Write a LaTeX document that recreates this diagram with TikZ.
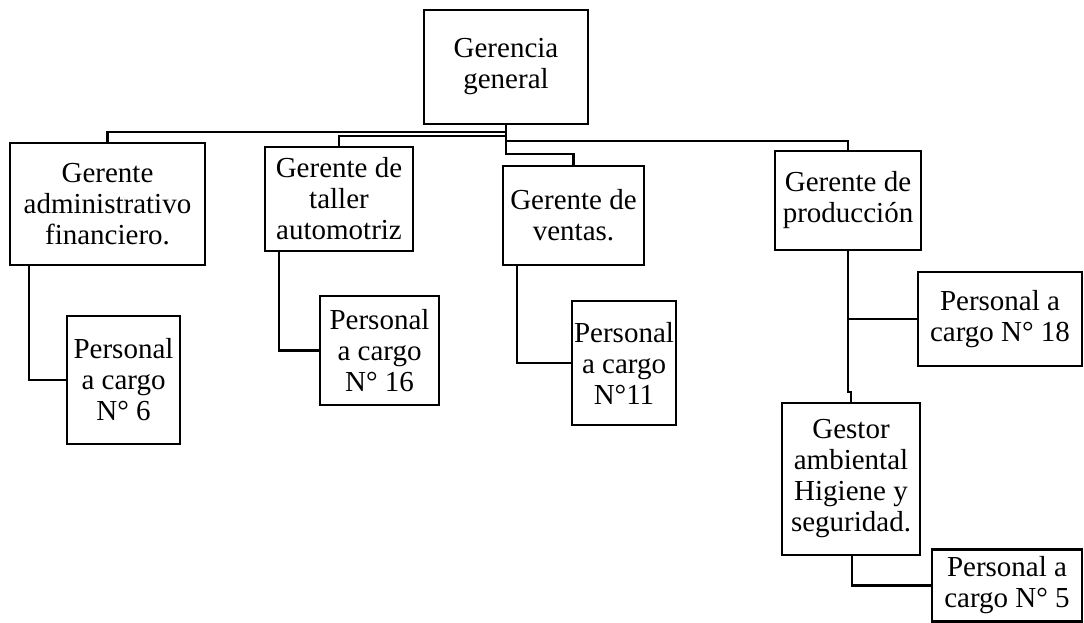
\documentclass[tikz,border=0pt]{standalone}
\usepackage{fontspec}
\setmainfont{Liberation Serif}
\usetikzlibrary{positioning}
\tikzset{box/.style={draw,rectangle,line width=2.4pt,align=center,inner sep=0pt,
  font=\fontsize{29}{31}\selectfont}}
\tikzset{con/.style={line width=2.4pt}}

\begin{document}
\begin{tikzpicture}[x=1pt,y=-1pt]
    \useasboundingbox (0,0) rectangle (1084,623);

    \node[box, minimum width=164, minimum height=114] (gg) at (506,67) {Gerencia\\general};

    \node[box, minimum width=195, minimum height=122] (ga) at (107.5,204) {Gerente\\administrativo\\financiero.};
    \node[box, minimum width=148, minimum height=104] (gt) at (339,199) {Gerente de\\taller\\automotriz};
    \node[box, minimum width=141, minimum height=99] (gv) at (573.5,215.5) {Gerente de\\ventas.};
    \node[box, minimum width=146, minimum height=99] (gp) at (848,200.5) {Gerente de\\producción};

    \node[box, minimum width=113, minimum height=128] (p6) at (123.5,380) {Personal\\a cargo\\N° 6};
    \node[box, minimum width=119, minimum height=109] (p16) at (379.5,350.5) {Personal\\a cargo\\N° 16};
    \node[box, minimum width=104, minimum height=124] (p11) at (624,363) {Personal\\a cargo\\N°11};
    \node[box, minimum width=164, minimum height=94] (p18) at (1000,319) {Personal a\\cargo N° 18};
    \node[box, minimum width=138, minimum height=152] (gh) at (851,479) {Gestor\\ambiental\\Higiene y\\seguridad.};
    \node[box, minimum width=150, minimum height=72] (p5) at (1007,585.5) {Personal a\\cargo N° 5};

    \draw[con] (gg.south) -- ++(0,7) -| (ga.north);
    \draw[con] (gg.south) -- ++(0,11) -| (gt.north);
    \draw[con] (gg.south) -- ++(0,16) -| (gp.north);
    \draw[con] (gg.south) -- ++(0,29) -| (gv.north);

    \draw[con] ([xshift=20pt]ga.south west) |- (p6.west);
    \draw[con] ([xshift=15pt]gt.south west) |- (p16.west);
    \draw[con] ([xshift=15pt]gv.south west) |- (p11.west);

    \draw[con] (gp.south) -- ++(0,141) -| (gh.north);
    \draw[con] (gp.south |- p18.west) -- (p18.west);
    \draw[con] ([xshift=1pt]gh.south) |- (p5.west);
\end{tikzpicture}
\end{document}
